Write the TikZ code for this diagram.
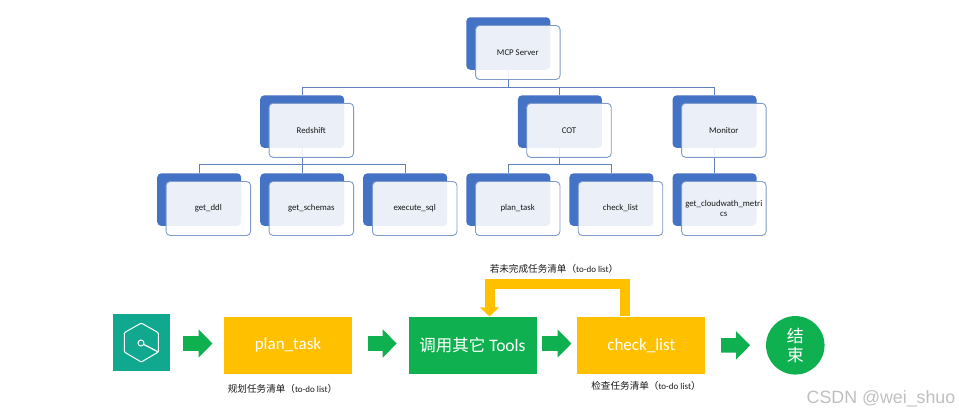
\documentclass[tikz,border=0pt]{standalone}
\usepackage{fontspec}
\setmainfont{Carlito}
\newfontfamily\cjk{Noto Sans CJK SC}
\newfontfamily\wm{Liberation Sans}
\usetikzlibrary{arrows.meta}
\definecolor{blueback}{HTML}{4472C4}
\definecolor{frontline}{HTML}{7F9BCB}
\definecolor{connline}{HTML}{5F80B8}
\definecolor{amber}{HTML}{FFC000}
\definecolor{leaf}{HTML}{0FB050}
\definecolor{teal}{HTML}{10A88E}
\tikzset{
  backbox/.style={rectangle,rounded corners=4pt,fill=blueback,draw=none,minimum width=84pt,minimum height=52.5pt,inner sep=0pt},
  frontbox/.style={rectangle,rounded corners=4pt,fill=white,fill opacity=.89,text opacity=1,draw=frontline,line width=.9pt,minimum width=84.5pt,minimum height=54pt,inner sep=0pt,align=center,font=\fontsize{8.8}{10}\selectfont,text=black!90},
  conn/.style={draw=connline,line width=.9pt},
  flowbox/.style={rectangle,draw=none,minimum width=128pt,minimum height=57.5pt,inner sep=0pt,text=white,font=\fontsize{17}{20}\selectfont},
  blockarrow/.style={draw=leaf,line width=14.5pt,-{Triangle[length=14pt,width=27.5pt,fill=leaf]}},
  caption/.style={inner sep=0pt,text=black!90,font=\fontsize{9.6}{11}\selectfont},
  loopline/.style={draw=amber,line width=10pt,-{Triangle[length=9pt,width=18.5pt,fill=amber]}},
}
\newcommand{\capt}[2]{{\cjk #1（}{\fontsize{9}{10}\selectfont #2}{\cjk ）}}
\begin{document}
\begin{tikzpicture}[x=1pt,y=-1pt]
\useasboundingbox (0,0) rectangle (959,416);
% back boxes
\node[backbox] (mcpb) at (508.3,43.5) {};
\node[backbox] (redb) at (302.2,121.6) {};
\node[backbox] (cotb) at (559.9,121.6) {};
\node[backbox] (monb) at (714.6,121.6) {};
\node[backbox] (ddlb) at (199.2,199.6) {};
\node[backbox] (schb) at (302.2,199.6) {};
\node[backbox] (exeb) at (405.2,199.6) {};
\node[backbox] (plnb) at (508.3,199.6) {};
\node[backbox] (chkb) at (611.4,199.6) {};
\node[backbox] (clwb) at (714.6,199.6) {};
% connectors
\draw[conn] (mcpb.south) -- ++(0,17.2) -| (redb.north);
\draw[conn] (mcpb.south) -- ++(0,17.2) -| (cotb.north);
\draw[conn] (mcpb.south) -- ++(0,17.2) -| (monb.north);
\draw[conn] (redb.south) -- ++(0,16.6) -| (ddlb.north);
\draw[conn] (redb.south) -- (schb.north);
\draw[conn] (redb.south) -- ++(0,16.6) -| (exeb.north);
\draw[conn] (cotb.south) -- ++(0,16.6) -| (plnb.north);
\draw[conn] (cotb.south) -- ++(0,16.6) -| (chkb.north);
\draw[conn] (monb.south) -- (clwb.north);
% front boxes
\node[frontbox] (mcp) at (517.8,52.5) {MCP Server};
\node[frontbox] (red) at (311.3,130.3) {Redshift};
\node[frontbox] (cot) at (569,130.3) {COT};
\node[frontbox] (mon) at (723.8,130.3) {Monitor};
\node[frontbox] (ddl) at (208.3,208.5) {get\_ddl};
\node[frontbox] (sch) at (311.3,208.5) {get\_schemas};
\node[frontbox] (exe) at (414.7,208.5) {execute\_sql};
\node[frontbox] (pln) at (517.7,208.5) {plan\_task};
\node[frontbox] (chk) at (620.5,208.5) {check\_list};
\node[frontbox] (clw) at (723.8,208.5) {get\_cloudwath\_metri\\cs};
% flow
\node[rectangle,fill=teal,minimum width=57.5pt,minimum height=57pt,inner sep=0pt] (icon) at (141.3,342.8) {};
\draw[white,line width=1pt,rounded corners=1pt] (141.3,323) -- (158.3,332.7) -- (158.3,352) -- (141.3,362) -- (124.3,352) -- (124.3,332.7) -- cycle;
\node[circle,draw=white,line width=1pt,minimum size=6pt,inner sep=0pt] (dot) at (141,343) {};
\draw[white,line width=1.2pt] (dot) -- (158.3,352);
\node[flowbox,fill=amber] (plan) at (288,345.4) {plan\_task};
\node[flowbox,fill=leaf] (tools) at (472.5,345.4) {{\cjk\fontsize{16.5}{20}\selectfont 调用其它} {\fontsize{17.5}{20}\selectfont Tools}};
\node[flowbox,fill=amber] (check) at (641.3,345.4) {check\_list};
\node[circle,fill=leaf,minimum size=58.5pt,inner sep=0pt,text=white,align=center,font=\cjk\fontsize{17}{19.5}\selectfont] (end) at (795.3,345.3) {结\\束};
\draw[blockarrow,shorten <=13pt,shorten >=11.3pt] ([yshift=-.7pt]icon.east) -- ([yshift=1.9pt]plan.west);
\draw[blockarrow,shorten <=15.3pt,shorten >=11.6pt] ([yshift=1.9pt]plan.east) -- ([yshift=1.9pt]tools.west);
\draw[blockarrow,shorten <=5.6pt,shorten >=5.6pt] ([yshift=1.9pt]tools.east) -- ([yshift=1.9pt]check.west);
\draw[blockarrow,shorten <=15.7pt,shorten >=15.7pt] (check.east) -- (end.west);
\draw[loopline] ([xshift=-16.8pt]check.north) -- ++(0,-32.4) -| ([xshift=17pt]tools.north);
\node[caption] (c1) at (282.5,389.3) {\capt{规划任务清单}{to-do list}};
\node[caption] (c2) at (554,269.3) {\capt{若未完成任务清单}{to-do list}};
\node[caption] (c3) at (646,385.7) {\capt{检查任务清单}{to-do list}};
\node[inner sep=0pt,text=black!25,font=\wm\fontsize{17.8}{20}\selectfont] (mark) at (881,398.7) {CSDN @wei\_shuo};
\end{tikzpicture}
\end{document}
